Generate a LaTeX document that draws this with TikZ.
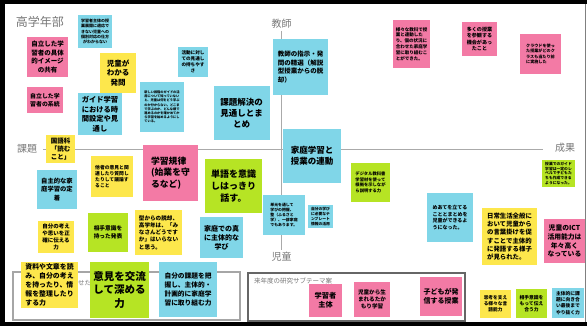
\documentclass[tikz,border=0pt]{standalone}
\usepackage{fontspec}
\setmainfont{Noto Sans CJK JP}
\usetikzlibrary{positioning}
\definecolor{notepink}{RGB}{243,122,165}
\definecolor{notecyan}{RGB}{128,214,232}
\definecolor{noteyellow}{RGB}{253,231,76}
\definecolor{notegreen}{RGB}{182,228,36}
\definecolor{axisgray}{RGB}{170,170,170}
\definecolor{labelgray}{RGB}{120,120,120}

\begin{document}
\begin{tikzpicture}[x=1pt,y=-1pt,
    sticky/.style={shape=rectangle, inner sep=1pt, align=center, text=black},
    pk/.style={sticky, fill=notepink},
    cy/.style={sticky, fill=notecyan},
    ye/.style={sticky, fill=noteyellow},
    gr/.style={sticky, fill=notegreen},
    sz/.style 2 args={minimum width=#1, minimum height=#2},
    fs/.style={font=\bfseries\fontsize{#1}{\fpeval{#1*1.3}}\selectfont},
    axislabel/.style={text=labelgray, inner sep=2pt, font=\fontsize{10}{12}\selectfont},
    axis/.style={draw=axisgray, line width=0.9pt},
    waku/.style={shape=rectangle, draw, inner sep=0pt},
    wakulabel/.style={text=labelgray, inner sep=0pt, font=\fontsize{6.5}{8}\selectfont}]
      \useasboundingbox (0,0) rectangle (587,326);
      \fill[white] (0,0) rectangle (587,326);
      \fill[black] (0,0) rectangle (587,4);
      \fill[black] (0,0) rectangle (5,326);
      \fill[black] (0,322) rectangle (587,326);
      \draw[gray, line width=0.8pt] (585,4) -- (585,322);

      \node[axislabel, font=\fontsize{12}{14}\selectfont] (bukai) at (40,22) {高学年部};
      \node[axislabel] (kyoushiL) at (281.5,24) {教師};
      \node[axislabel] (kadaiL) at (27,149) {課題};
      \node[axislabel] (seikaL) at (565,148) {成果};
      \node[axislabel] (jidouL) at (281.5,257) {児童};

      \draw[axis, shorten <=4pt, shorten >=10pt] (kadaiL.east) -- (seikaL.west |- kadaiL.east);
      \draw[axis] (kyoushiL.south) -- (jidouL.north);

      \node[waku, draw=gray!70, line width=1.2pt, sz={227}{48}] (waku1) at (126.5,296) {};
      \node[waku, draw=gray!80!black, line width=1.5pt, sz={217}{48}] (waku2) at (356.5,297) {};
      \node[wakulabel, anchor=west] (waku1L) at (78,283) {せた};
      \node[wakulabel, anchor=west] (waku2L) at (254,281) {来年度の研究サブテーマ案};

      \node[cy, sz={34}{33}, fs=4] (kobetsu) at (95,31.5) {学習者主体の授\\業展開に適応で\\きない児童への\\個別対応の仕方\\がわからない};
      \node[pk, sz={41}{40}, fs=6.5] (imeeji) at (47.5,57) {自立した学\\習者の具体\\的イメージ\\の共有};
      \node[ye, sz={36}{40}, fs=7.5] (hatsumon) at (118,73) {児童が\\わかる\\発問};
      \node[pk, sz={36}{26}, fs=5.9] (keitou) at (45,100) {自立した学\\習者の系統};
      \node[cy, sz={44}{42}, fs=7.3] (guide) at (100,114) {ガイド学習\\における時\\間設定や見\\通し};
      \node[cy, sz={44}{50}, fs=3.2, align=left] (katsuyou) at (162,107) {新しい段階のガイドの活\\用について知っていない\\と、児童は何をどう学ぶ\\のか分からない。どこま\\で学ぶのか、どんな順で\\進めるのかを確かめてか\\ら学習を始めるようにし\\ている。};
      \node[cy, sz={30}{30}, fs=4.6] (mitooshi) at (193,62) {活動に対し\\ての見通し\\の持ちやす\\さ};
      \node[cy, sz={55}{56}, fs=6.5, align=left] (shiji) at (300.5,67) {教師の指示・発\\問の精選（解説\\型授業からの脱\\却）};
      \node[pk, sz={37}{48}, fs=4.5, align=left] (samazama) at (411.5,44) {様々な教科で授\\業と連動した\\り、個の状況に\\合わせた家庭学\\習に取り組むこ\\とができた。};
      \node[pk, sz={35}{34}, fs=5.1] (sankan) at (479.5,39) {多くの授業\\を参観する\\機会があっ\\たこと};
      \node[pk, sz={41}{40}, fs=4.1, align=left] (cloud) at (540.5,54) {クラウドを使っ\\た授業がどのク\\ラスも当たり前\\に実施した};

      \node[cy, sz={56}{54}, fs=8.5] (mitooshi2) at (241.5,113) {課題解決の\\見通しとま\\とめ};
      \node[cy, sz={58}{54}, fs=8.5] (rendou) at (312,156) {家庭学習と\\授業の連動};
      \node[ye, sz={29}{28}, fs=6.5] (kokugo) at (60.5,149) {国語科\\「読む\\こと」};
      \node[ye, sz={42}{41}, fs=4.8, align=left] (tasha) at (112,176.5) {他者の意見と関\\連したり質問し\\たりして議論す\\ること};
      \node[pk, sz={55}{56}, fs=8.8, align=left] (kiritsu) at (170.5,173) {学習規律\\(始業を守\\るなど)};
      \node[gr, sz={57}{54}, fs=9] (tango) at (233.5,186) {単語を意識\\しはっきり\\話す。};
      \node[gr, sz={39}{39}, fs=4.3, align=left] (digital) at (370.5,182.5) {デジタル教科書\\学習材を使って\\根拠を示しなが\\ら説明する力};
      \node[gr, sz={33}{27}, fs=3.8, align=left] (guide2) at (558.5,173.5) {授業でのガイド\\学習は一定のレ\\ベルで子どもた\\ちも作成できる\\ようになった。};
      \node[cy, sz={40}{39}, fs=6.3] (teichaku) at (57,189.5) {自主的な家\\庭学習の定\\着};

      \node[cy, sz={42}{40}, fs=3.9, align=left] (tangen) at (284,215) {単元を通して\\学びの把握、\\整（ふるさと\\学）、一部家庭\\でもあります。};
      \node[cy, sz={25}{23}, fs=3.8] (template) at (320.5,216.5) {自分の学び\\に必要なテ\\ンプレート\\情報の活用};
      \node[cy, sz={46}{49}, fs=5, align=left] (meate) at (450,217.5) {めあてを立てる\\こととまとめを\\児童ができるよ\\うになった。};
      \node[ye, sz={55}{57}, fs=6.4, align=left] (nichijo) at (509.5,236.5) {日常生活全般に\\おいて児童から\\の言葉掛けを促\\すことで主体的\\に発語する様子\\が見られた。};
      \node[pk, sz={41}{44}, fs=6.8] (ict) at (564.5,241) {児童のICT\\活用能力は\\年々高く\\なっている};
      \node[ye, sz={36}{32}, fs=5.5] (tsutaeru) at (56,237) {自分の考え\\や思いを正\\確に伝える\\力};
      \node[gr, sz={40}{39}, fs=5.7] (aite) at (108,232.5) {相手意識を\\持った発表};
      \node[ye, sz={47}{45}, fs=5.6, align=left] (kata) at (158.5,232.5) {型からの脱却、\\高学年は、「み\\なさんどうです\\か」はいらない\\と思う。};
      \node[cy, sz={43}{41}, fs=7] (shutai) at (221.5,237.5) {家庭での真\\に主体的な\\学び};

      \node[ye, sz={57}{46}, fs=6.9, align=left] (shiryou) at (49.5,285) {資料や文章を読\\み、自分の考え\\を持ったり、情\\報を整理したり\\する力};
      \node[gr, sz={59}{56}, fs=10.5] (kouryu) at (119.5,290) {意見を交流\\して深める\\力};
      \node[cy, sz={58}{55}, fs=6.7, align=left] (kadai) at (188,289.5) {自分の課題を把\\握し、主体的・\\計画的に家庭学\\習に取り組む力};
      \node[pk, sz={33}{33}, fs=7.2] (gakushusha) at (325.5,300.5) {学習者\\主体};
      \node[pk, sz={36}{35}, fs=5.6] (takamori) at (372,299.5) {児童から生\\まれるたか\\もり学習};
      \node[pk, sz={42}{39}, fs=7] (hasshin) at (441,296.5) {子どもが発\\信する授業};
      \node[ye, sz={31}{28}, fs=4.7] (gengo) at (495.5,304) {思考を支え\\る様々な言\\語能力};
      \node[gr, sz={31}{29}, fs=4.8] (tsutaeau) at (531.5,303.5) {相手意識を\\もって伝え\\合う力};
      \node[cy, sz={32}{30}, fs=4.8] (yarinuku) at (568,303) {主体的に課\\題に向き合\\い最後まで\\やり抜く力};
    \end{tikzpicture}
\end{document}
